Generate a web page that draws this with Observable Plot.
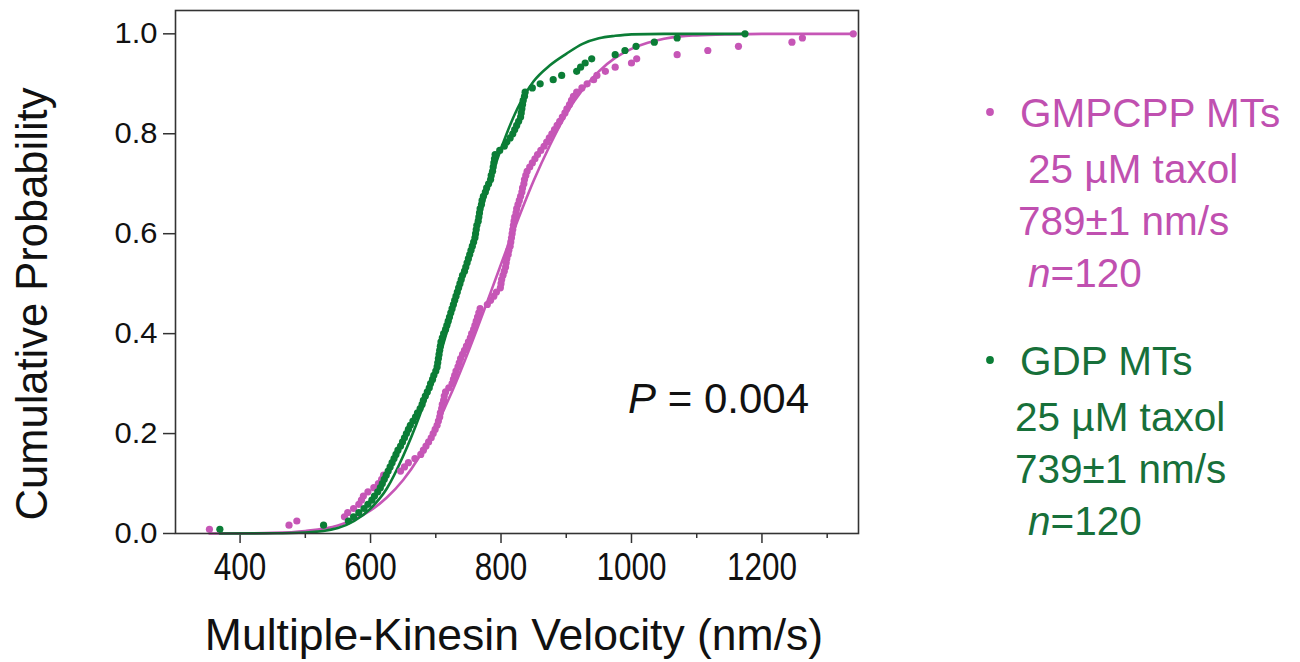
<!DOCTYPE html>
<html><head><meta charset="utf-8">
<script src="https://cdn.jsdelivr.net/npm/d3@7"></script>
<script src="https://cdn.jsdelivr.net/npm/@observablehq/plot@0.6"></script>
<style>body{margin:0;background:#fff;} #chart{width:1300px;height:662px;}</style>
</head><body><div id="chart"></div>
<script>
// Sorted velocities (nm/s) read from the ECDF points, n = 120 each
const gmpcppVel = [353,475,487,560,565,574,582,586,589,596,
605,612,617,620,646,652,658,668,677,681,
685,689,693,696,699,702,704,706,707,709,
710,712,713,715,720,725,727,729,731,734,
736,738,741,744,747,750,753,755,758,760,
762,764,766,768,779,784,789,793,799,800,
801,803,805,807,808,809,811,812,814,815,
816,817,818,819,820,821,823,824,826,828,
830,832,833,835,836,838,840,844,848,852,
856,861,866,870,874,878,882,886,890,894,
898,901,905,908,911,916,924,932,942,947,
960,975,1000,1008,1070,1117,1164,1246,1262,1340];
const gdpVel = [369,528,566,574,582,590,596,602,606,611,
615,618,621,624,627,630,633,636,639,642,
646,649,652,655,658,661,665,669,672,676,
679,681,684,687,690,692,695,697,700,702,
703,704,705,706,707,708,710,712,715,717,
719,721,723,725,727,729,731,733,735,737,
739,741,744,746,748,750,752,754,756,758,
760,761,762,763,765,766,767,768,770,771,
773,776,778,781,784,785,787,788,789,790,
791,798,805,809,814,818,821,824,827,830,
831,832,833,834,836,837,848,860,880,893,
916,922,929,939,975,990,1007,1035,1070,1174];
// Fitted curves
const gmpcppFitV = [353,400,450,500,550,575,600,625,650,675,700,725,750,775,800,825,850,875,900,925,950,975,1000,1025,1050,1075,1100,1150,1200,1340];
const gmpcppFitP = [0,0.0003,0.0012,0.005,0.016,0.028,0.046,0.072,0.107,0.154,0.214,0.284,0.364,0.45,0.539,0.625,0.706,0.777,0.84,0.888,0.925,0.952,0.97,0.982,0.99,0.995,0.997,0.999,1,1];
const gdpFitV = [369,450,500,550,575,600,625,650,675,700,725,750,775,800,825,850,875,900,925,950,975,1000,1050,1100,1174];
const gdpFitP = [0,0.0005,0.002,0.011,0.025,0.05,0.09,0.155,0.235,0.33,0.44,0.555,0.67,0.77,0.85,0.905,0.937,0.96,0.98,0.991,0.996,0.999,1,1,1];

const xTicks = [400,600,800,1000,1200];
const xMinorTicks = [500,700,900,1100,1300];
const yTicks = [0,0.2,0.4,0.6,0.8,1.0];
const seriesNames = ["GMPCPP MTs","GDP MTs"];
const seriesColors = ["#c656b6","#0b7d36"];
const textColors = ["#c050b0","#17703a"];
const legendDetails = [["25 µM taxol","789±1 nm/s","120"],["25 µM taxol","739±1 nm/s","120"]];
const xTitle = "Multiple-Kinesin Velocity (nm/s)";
const yTitle = "Cumulative Probability";
const pValue = "0.004";

const ecdf = (vals, s) => vals.map((v,i)=>({v, p:(i+1)/vals.length, s}));
const ptsM = ecdf(gmpcppVel, seriesNames[0]);
const ptsG = ecdf(gdpVel, seriesNames[1]);
const fitM = gmpcppFitV.map((v,i)=>({v, p:gmpcppFitP[i]}));
const fitG = gdpFitV.map((v,i)=>({v, p:gdpFitP[i]}));

const FONT = "'Liberation Sans', Arial, sans-serif";
const plot = Plot.plot({
  width: 1300, height: 662,
  marginLeft: 175, marginRight: 442, marginTop: 10, marginBottom: 129,
  style: {fontFamily: FONT, background: "white", color: "#111"},
  x: {domain: [301, 1348]},
  y: {domain: [0, 1.0467]},
  marks: [
    Plot.axisY({ticks: yTicks, tickSize: 12, tickPadding: 6, tickFormat: d3.format(".1f"), fontSize: 29, label: null, stroke: "#333", strokeWidth: 1.5}),
    Plot.axisX({ticks: xMinorTicks, tickSize: 5, tickFormat: () => "", label: null, stroke: "#333", strokeWidth: 1.5}),
    Plot.axisX({ticks: xTicks, tickSize: 10, tickPadding: 10, fontSize: 38, tickFormat: d3.format("d"), label: null, stroke: "#333", strokeWidth: 1.5}),
    Plot.line(fitM, {x: "v", y: "p", stroke: seriesColors[0], strokeWidth: 2.6, curve: "monotone-x"}),
    Plot.line(fitG, {x: "v", y: "p", stroke: seriesColors[1], strokeWidth: 2.6, curve: "monotone-x"}),
    Plot.dot(ptsM, {x: "v", y: "p", fill: seriesColors[0], r: 3.6}),
    Plot.dot(ptsG, {x: "v", y: "p", fill: seriesColors[1], r: 3.6}),
    Plot.frame({stroke: "#333", strokeWidth: 1.6})
  ]
});
document.getElementById("chart").appendChild(plot);

const svg = d3.select(plot);
// condensed x tick labels / wide y tick labels as in the original figure
svg.selectAll('g[aria-label="x-axis tick label"]').style("font-size", "38px");
svg.selectAll('g[aria-label="y-axis tick label"]').style("font-size", "29px");
svg.selectAll('g[aria-label="x-axis tick label"] text').each(function() {
  const n = this.textContent.length;
  if (n) d3.select(this).attr("textLength", 17.5 * n).attr("lengthAdjust", "spacingAndGlyphs");
});
svg.selectAll('g[aria-label="y-axis tick label"] text').each(function() {
  d3.select(this).attr("textLength", 43).attr("lengthAdjust", "spacingAndGlyphs");
});

svg.append("text").attr("x", 514).attr("y", 650).attr("text-anchor", "middle")
  .attr("font-size", 44.5).attr("fill", "#111").attr("font-family", FONT).text(xTitle);
svg.append("text").attr("transform", "translate(47,304) rotate(-90)").attr("text-anchor", "middle")
  .attr("font-size", 43.5).attr("fill", "#111").attr("font-family", FONT).text(yTitle);
const pt = svg.append("text").attr("x", 628).attr("y", 413).attr("text-anchor", "start")
  .attr("font-size", 42).attr("fill", "#111").attr("font-family", FONT);
pt.append("tspan").attr("font-style", "italic").text("P");
pt.append("tspan").text(" = " + pValue);

// Legend
const legendTop = [127, 375];
seriesNames.forEach((name, k) => {
  const y0 = legendTop[k];
  svg.append("circle").attr("cx", 990).attr("cy", y0 - 15).attr("r", 3.9).attr("fill", seriesColors[k]);
  const g = svg.append("g").attr("font-family", FONT).attr("font-size", 40.5)
    .attr("fill", textColors[k]).attr("text-anchor", "start");
  g.append("text").attr("x", 1020).attr("y", y0).text(name);
  const xs = k === 0 ? [1028, 1018] : [1015, 1015];
  g.append("text").attr("x", xs[0]).attr("y", y0 + 56).text(legendDetails[k][0]);
  g.append("text").attr("x", xs[1]).attr("y", y0 + 108).text(legendDetails[k][1]);
  const nt = g.append("text").attr("x", 1028).attr("y", y0 + 160);
  nt.append("tspan").attr("font-style", "italic").text("n");
  nt.append("tspan").text("=" + legendDetails[k][2]);
});
</script>
</body></html>
